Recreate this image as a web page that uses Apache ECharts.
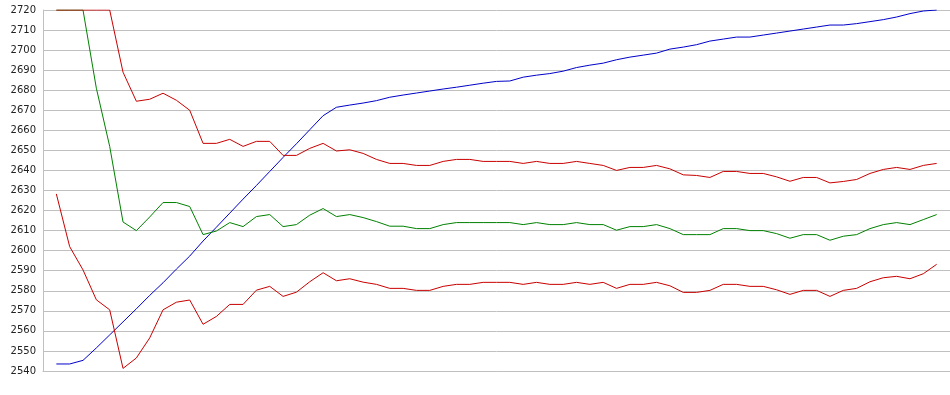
<!DOCTYPE html>
<html>
<head>
<meta charset="utf-8">
<script src="https://cdn.jsdelivr.net/npm/echarts@6/dist/echarts.min.js"></script>
<style>
html,body{margin:0;padding:0;background:#fff;}
#chart{width:950px;height:395px;}
</style>
</head>
<body>
<div id="chart"></div>
<script>
// y-axis ticks
var yMin = 2540, yMax = 2720, yStep = 10;

// series values, one per sample (67 samples)
var blue = [2543.5,2543.5,2545.3,2551.5,2558,2564.5,2571,2577.7,2584,2590.8,2597.3,2604.8,2611.7,2618.7,2625.7,2632.5,2639.5,2646.5,2653.3,2660.3,2667.3,2671.5,2672.6,2673.6,2674.8,2676.5,2677.6,2678.6,2679.6,2680.6,2681.5,2682.5,2683.5,2684.4,2684.6,2686.5,2687.5,2688.3,2689.5,2691.3,2692.5,2693.5,2695.2,2696.5,2697.5,2698.5,2700.5,2701.5,2702.7,2704.5,2705.5,2706.5,2706.5,2707.5,2708.5,2709.5,2710.5,2711.5,2712.5,2712.5,2713.2,2714.2,2715.2,2716.5,2718.2,2719.5,2720];
var redUpper = [2720,2720,2720,2720,2720,2689,2674.5,2675.5,2678.5,2675,2670,2653.5,2653.5,2655.5,2652,2654.5,2654.5,2647.5,2647.5,2651,2653.5,2649.7,2650.3,2648.5,2645.5,2643.5,2643.5,2642.5,2642.5,2644.5,2645.5,2645.5,2644.5,2644.5,2644.5,2643.5,2644.5,2643.5,2643.5,2644.5,2643.5,2642.5,2640,2641.5,2641.5,2642.5,2640.8,2637.8,2637.5,2636.5,2639.5,2639.5,2638.5,2638.5,2636.8,2634.6,2636.5,2636.5,2633.8,2634.5,2635.5,2638.5,2640.5,2641.5,2640.5,2642.5,2643.5];
var green = [2720,2720,2720,2681,2652,2614.3,2610,2616.8,2624,2624,2622,2608,2609.8,2614,2612,2617,2618,2612,2613,2617.7,2621,2617,2618,2616.5,2614.5,2612.2,2612.2,2611,2611,2613,2614,2614,2614,2614,2614,2613,2614,2613,2613,2614,2613,2613,2610.2,2612,2612,2613,2611,2608,2608,2608,2611,2611,2610,2610,2608.5,2606.2,2608,2608,2605.2,2607.2,2608,2611,2613,2614,2613,2615.5,2618];
var redLower = [2628.3,2602,2590.4,2575.5,2570.5,2541.3,2546.5,2556.5,2570.5,2574.3,2575.4,2563.3,2567.2,2573.2,2573.2,2580.3,2582.2,2577.2,2579.3,2584.5,2589,2585,2586,2584.3,2583.2,2581.2,2581.2,2580.2,2580.2,2582.2,2583.2,2583.2,2584.2,2584.2,2584.2,2583.2,2584.2,2583.2,2583.2,2584.2,2583.2,2584.2,2581.2,2583.2,2583.2,2584.2,2582.5,2579.2,2579.2,2580.2,2583.2,2583.2,2582.2,2582.2,2580.5,2578.2,2580.2,2580.2,2577.2,2580.2,2581.2,2584.5,2586.5,2587.2,2586,2588.5,2593.2];

function pairs(arr){ return arr.map(function(v,i){ return [i+1, v]; }); }

var chart = echarts.init(document.getElementById('chart'), null, {renderer:'canvas'});
function line(name, arr, color){
  return {name:name, type:'line', data:pairs(arr), showSymbol:false, symbol:'none',
    lineStyle:{color:color, width:1}, itemStyle:{color:color}, clip:true};
}
chart.setOption({
  animation:false,
  backgroundColor:'#ffffff',
  grid:{left:43, right:0, top:10, bottom:24, containLabel:false},
  xAxis:{type:'value', min:0, max:blue.length+1,
    axisLine:{show:true, lineStyle:{color:'#c0c0c0', width:1}},
    axisTick:{show:false}, axisLabel:{show:false}, splitLine:{show:false}},
  yAxis:{type:'value', min:yMin, max:yMax, interval:yStep,
    axisLine:{show:true, lineStyle:{color:'#c0c0c0', width:1}},
    axisTick:{show:false},
    axisLabel:{color:'#222', fontFamily:'DejaVu Sans', fontSize:10, margin:7,
      formatter:function(v){ return String(v); }},
    splitLine:{show:true, lineStyle:{color:'#c0c0c0', width:1}}},
  series:[
    line('blue', blue, '#0000c8'),
    line('green', green, '#008000'),
    line('redLower', redLower, '#c80000'),
    line('redUpper', redUpper, '#c80000')
  ]
});
</script>
</body>
</html>
